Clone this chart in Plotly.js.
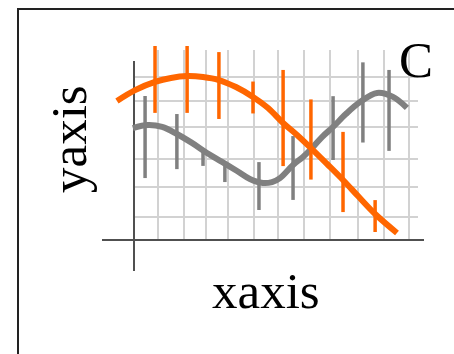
<!DOCTYPE html>
<html>
<head>
<meta charset="utf-8">
<script src="https://cdn.plot.ly/plotly-3.0.1.min.js"></script>
<style>
html,body{margin:0;padding:0;overflow:hidden;background:#fff;}
#chart{width:454px;height:354px;}
</style>
</head>
<body>
<div id="chart"></div>
<script>
// Smooth curves
var orangeLineX = [-0.60, 0.04, 0.74, 1.30, 1.87, 2.43, 2.99, 3.59, 4.19, 4.72, 5.25, 5.74, 6.23, 6.80, 7.36, 7.92, 8.49, 9.26];
var orangeLineY = [7.32, 7.89, 8.32, 8.53, 8.63, 8.58, 8.42, 8.05, 7.53, 6.95, 6.16, 5.53, 4.84, 4.00, 3.16, 2.26, 1.37, 0.37];
var grayLineX = [-0.04, 0.49, 0.99, 1.51, 2.04, 2.57, 3.10, 3.63, 4.08, 4.54, 4.86, 5.14, 5.60, 5.95, 6.27, 6.62, 7.01, 7.46, 7.96, 8.56, 9.12, 9.61];
var grayLineY = [5.89, 6.05, 5.95, 5.58, 5.11, 4.58, 4.11, 3.63, 3.21, 3.00, 3.05, 3.26, 3.95, 4.37, 4.84, 5.42, 5.95, 6.63, 7.26, 7.74, 7.53, 6.95];
// Measured points with error bars
var orangePtX = [0.74, 1.87, 2.99, 4.19, 5.25, 6.23, 7.36, 8.49];
var orangePtY = [8.45, 8.45, 8.13, 7.50, 6.42, 5.29, 3.58, 1.26];
var orangeErr = [1.76, 1.76, 1.76, 0.84, 2.53, 2.11, 2.11, 0.84];
var grayPtX = [0.39, 1.51, 2.43, 3.20, 4.40, 5.60, 7.01, 8.06, 8.98];
var grayPtY = [5.42, 5.18, 4.37, 3.58, 2.84, 3.79, 5.89, 7.24, 6.82];
var grayErr = [2.16, 1.45, 0.47, 0.53, 1.26, 1.68, 1.68, 2.11, 2.13];
// Hand-drawn grid positions
var gridX = [0.845, 1.761, 2.535, 3.310, 4.225, 5.070, 5.986, 6.901, 7.887, 8.803, 9.683];
var gridY = [1.211, 2.789, 4.263, 5.947, 7.316, 8.579];
// Texts
var xTitle = 'xaxis';
var yTitle = 'yaxis';
var panelLabel = 'C';

var W = 454, H = 354;
var ORANGE = '#ff6600', GRAY = '#808080';
var FONT = 'Liberation Serif, Times New Roman, serif';

// invisible helper traces so the grid subplot and the axis-line subplot get drawn
function helper(xa, ya) {
  return {x: grayPtX, y: grayPtY, xaxis: xa, yaxis: ya, mode: 'markers',
          marker: {size: 1, opacity: 0}, hoverinfo: 'skip'};
}

var traces = [
  helper('x', 'y'),
  helper('x2', 'y2'),
  {x: grayLineX, y: grayLineY, xaxis: 'x3', yaxis: 'y3', mode: 'lines',
   line: {color: GRAY, width: 6, shape: 'spline', smoothing: 1}, hoverinfo: 'skip'},
  {x: grayPtX, y: grayPtY, xaxis: 'x3', yaxis: 'y3', mode: 'markers',
   marker: {size: 1, opacity: 0, color: GRAY},
   error_y: {type: 'data', array: grayErr, symmetric: true, color: GRAY, thickness: 3.5, width: 0}, hoverinfo: 'skip'},
  {x: orangePtX, y: orangePtY, xaxis: 'x3', yaxis: 'y3', mode: 'markers',
   marker: {size: 1, opacity: 0, color: ORANGE},
   error_y: {type: 'data', array: orangeErr, symmetric: true, color: ORANGE, thickness: 3.5, width: 0}, hoverinfo: 'skip'},
  {x: orangeLineX, y: orangeLineY, xaxis: 'x3', yaxis: 'y3', mode: 'lines',
   line: {color: ORANGE, width: 6, shape: 'spline', smoothing: 1}, hoverinfo: 'skip'}
];

function hidden(extra) {
  var a = {showgrid: false, zeroline: false, showline: false, showticklabels: false, ticks: '', fixedrange: true, type: 'linear'};
  for (var k in extra) a[k] = extra[k];
  return a;
}

var layout = {
  width: W, height: H,
  margin: {l: 0, r: 0, t: 0, b: 0, pad: 0},
  paper_bgcolor: '#ffffff', plot_bgcolor: 'rgba(0,0,0,0)',
  showlegend: false, hovermode: false,
  // grid axes
  xaxis: hidden({domain: [134 / W, 418 / W], range: [0, 10], anchor: 'y', showgrid: true,
    gridcolor: '#d2d2d2', gridwidth: 2, tickmode: 'array', tickvals: gridX}),
  yaxis: hidden({domain: [1 - 240 / H, 1 - 50 / H], range: [0, 10], anchor: 'x', showgrid: true,
    gridcolor: '#d2d2d2', gridwidth: 2, tickmode: 'array', tickvals: gridY}),
  // axis lines (zero lines)
  xaxis2: hidden({domain: [102 / W, 424 / W], range: [-32 / 28.4, 290 / 28.4], anchor: 'y2',
    zeroline: true, zerolinecolor: '#505050', zerolinewidth: 2}),
  yaxis2: hidden({domain: [1 - 271 / H, 1 - 61 / H], range: [-31 / 19, 179 / 19], anchor: 'x2',
    zeroline: true, zerolinecolor: '#505050', zerolinewidth: 2}),
  // data axes
  xaxis3: hidden({domain: [0, 1], range: [-134 / 28.4, 320 / 28.4], anchor: 'y3'}),
  yaxis3: hidden({domain: [0, 1], range: [-114 / 19, 240 / 19], anchor: 'x3'}),
  annotations: [
    {text: xTitle, xref: 'paper', yref: 'paper', x: 266 / W, y: 1 - 291 / H, xanchor: 'center', yanchor: 'middle',
     showarrow: false, font: {family: FONT, size: 51, color: '#000'}},
    {text: yTitle, xref: 'paper', yref: 'paper', x: 69 / W, y: 1 - 139 / H, xanchor: 'center', yanchor: 'middle',
     textangle: -90, showarrow: false, font: {family: FONT, size: 51, color: '#000'}},
    {text: panelLabel, xref: 'paper', yref: 'paper', x: 416 / W, y: 1 - 60 / H, xanchor: 'center', yanchor: 'middle',
     showarrow: false, font: {family: FONT, size: 51, color: '#000'}}
  ],
  shapes: [
    {type: 'rect', xref: 'paper', yref: 'paper', x0: 18 / W, x1: 1.2, y0: -0.2, y1: 1 - 9 / H,
     line: {color: '#222', width: 2}, fillcolor: 'rgba(0,0,0,0)', layer: 'above'}
  ]
};

Plotly.newPlot('chart', traces, layout, {staticPlot: true, displayModeBar: false});
</script>
</body>
</html>
